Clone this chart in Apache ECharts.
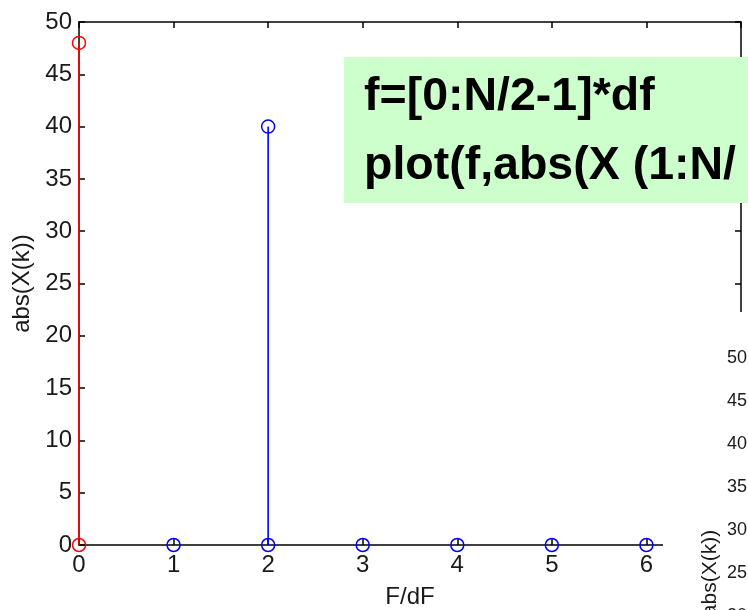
<!DOCTYPE html>
<html>
<head>
<meta charset="utf-8">
<script src="https://cdn.jsdelivr.net/npm/echarts@6/dist/echarts.min.js"></script>
<style>html,body{margin:0;padding:0;background:#fff;}#c{width:748px;height:610px;}</style>
</head>
<body>
<div id="c"></div>
<script>
// ---- data ----
const redK = [0, 0];
const redVal = [48, 0];
const blueK = [1, 2, 2, 3, 4, 5, 6];
const blueVal = [0, 40, 0, 0, 0, 0, 0];
const xTickLabels = ['0', '1', '2', '3', '4', '5', '6'];
const codeLines = ['f=[0:N/2-1]*df', 'plot(f,abs(X (1:N/'];
const xName = 'F/dF';
const yName = 'abs(X(k))';

const FONT = 'Liberation Sans, Arial, Helvetica, sans-serif';
const chart = echarts.init(document.getElementById('c'), null, {renderer: 'canvas'});

function stemSeries(ks, vals, color) {
  return {
    type: 'custom',
    xAxisIndex: 0, yAxisIndex: 0,
    clip: false,
    z: 5,
    data: ks.map((k, i) => [k, vals[i]]),
    renderItem: function (params, api) {
      const p0 = api.coord([api.value(0), 0]);
      const p1 = api.coord([api.value(0), api.value(1)]);
      return {
        type: 'group',
        children: [
          {type: 'line', shape: {x1: p0[0], y1: p0[1], x2: p1[0], y2: p1[1]},
           style: {stroke: color, lineWidth: 1.6}},
          {type: 'circle', shape: {cx: p1[0], cy: p1[1], r: 6.5},
           style: {stroke: color, fill: 'none', lineWidth: 1.5}}
        ]
      };
    }
  };
}

const axisLineStyle = {color: '#000', width: 1.5};
const option = {
  backgroundColor: '#fff',
  animation: false,
  grid: [
    {left: 79, top: 22, right: 7, bottom: 65, containLabel: false, outerBoundsMode: 'none'},
    {left: 755, top: 358, width: 100, height: 430, containLabel: false, outerBoundsMode: 'none'}
  ],
  xAxis: [
    {type: 'value', gridIndex: 0, position: 'bottom', min: 0, max: 7, interval: 1,
     name: xName, nameLocation: 'middle', nameGap: 40,
     nameTextStyle: {fontFamily: FONT, fontSize: 24, color: '#1a1a1a'},
     axisLine: {show: true, onZero: false, lineStyle: axisLineStyle},
     axisTick: {show: true, inside: true, length: 6, lineStyle: {color: '#000', width: 1.5}},
     axisLabel: {fontFamily: FONT, fontSize: 24, color: '#1a1a1a', margin: 8,
       formatter: v => (v >= 0 && v < xTickLabels.length) ? xTickLabels[v] : ''},
     splitLine: {show: false}},
    {type: 'value', gridIndex: 0, position: 'top', min: 0, max: 7, interval: 1,
     axisLine: {show: true, onZero: false, lineStyle: axisLineStyle},
     axisTick: {show: true, inside: true, length: 6, lineStyle: {color: '#000', width: 1.5}},
     axisLabel: {show: false}, splitLine: {show: false}},
    {type: 'value', gridIndex: 1, show: false, min: 0, max: 7}
  ],
  yAxis: [
    {type: 'value', gridIndex: 0, position: 'left', min: 0, max: 50, interval: 5,
     name: yName, nameLocation: 'middle', nameGap: 45, nameRotate: 90,
     nameTextStyle: {fontFamily: FONT, fontSize: 24, color: '#1a1a1a'},
     axisLine: {show: true, onZero: false, lineStyle: axisLineStyle},
     axisTick: {show: true, inside: true, length: 6, lineStyle: {color: '#000', width: 1.5}},
     axisLabel: {fontFamily: FONT, fontSize: 24, color: '#1a1a1a', margin: 7},
     splitLine: {show: false}},
    {type: 'value', gridIndex: 0, position: 'right', min: 0, max: 50, interval: 5,
     axisLine: {show: true, onZero: false, lineStyle: axisLineStyle},
     axisTick: {show: true, inside: true, length: 6, lineStyle: {color: '#000', width: 1.5}},
     axisLabel: {show: false}, splitLine: {show: false}},
    {type: 'value', gridIndex: 1, position: 'left', min: 0, max: 50, interval: 5, z: 30,
     name: yName, nameLocation: 'middle', nameGap: 34, nameRotate: 90,
     nameTextStyle: {fontFamily: FONT, fontSize: 21, color: '#1a1a1a'},
     axisLine: {show: false}, axisTick: {show: false},
     axisLabel: {fontFamily: FONT, fontSize: 18, color: '#1a1a1a', margin: 8},
     splitLine: {show: false}}
  ],
  graphic: [
    {type: 'rect', z: 20, shape: {x: 663, y: 312, width: 90, height: 300},
     style: {fill: '#ffffff'}},
    {type: 'rect', z: 20, shape: {x: 344, y: 57, width: 410, height: 146},
     style: {fill: '#ccffcc'}},
    {type: 'text', z: 21, x: 364, y: 97,
     style: {text: codeLines[0], fill: '#000', font: 'bold 46.5px ' + FONT, verticalAlign: 'middle'}},
    {type: 'text', z: 21, x: 364, y: 166,
     style: {text: codeLines[1], fill: '#000', font: 'bold 46.5px ' + FONT, verticalAlign: 'middle'}}
  ],
  series: [
    stemSeries(redK, redVal, '#ff0000'),
    stemSeries(blueK, blueVal, '#0000ff')
  ]
};
chart.setOption(option);
</script>
</body>
</html>
